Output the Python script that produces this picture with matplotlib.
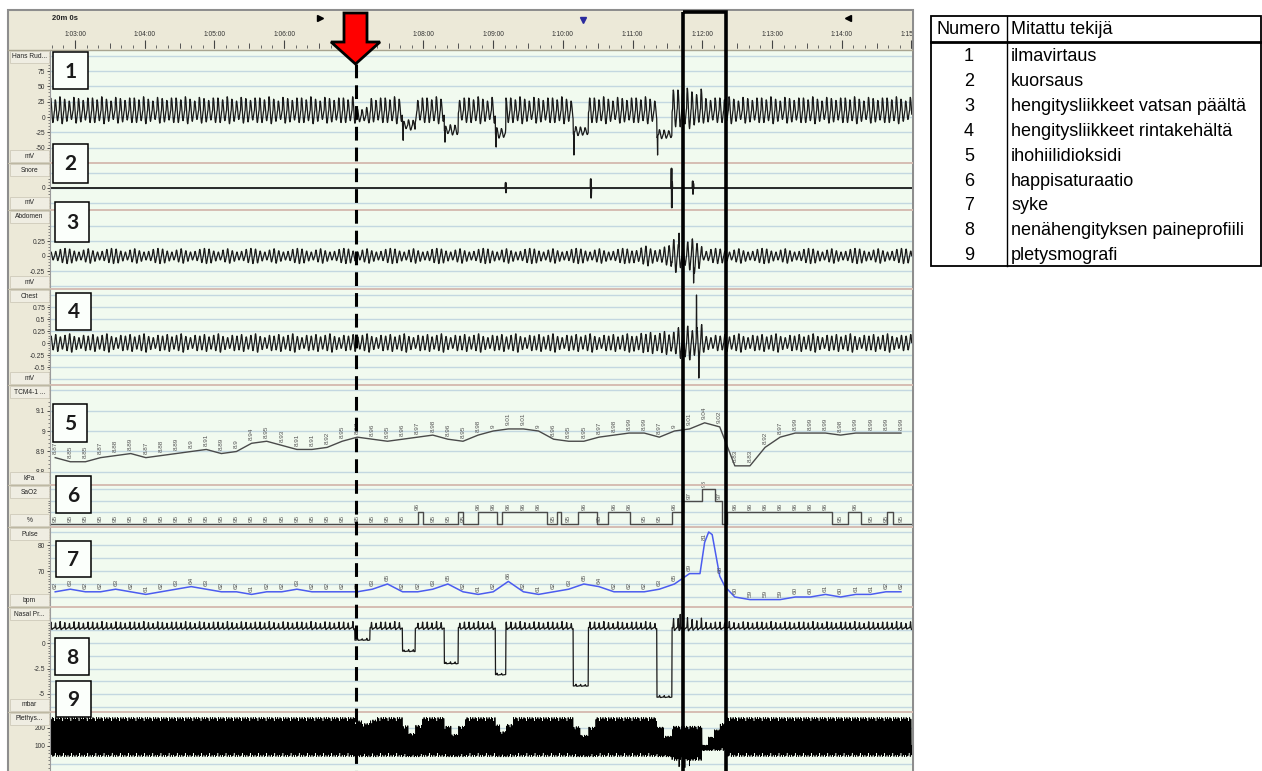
import numpy as np
import matplotlib
matplotlib.use("Agg")
import matplotlib.pyplot as plt
from matplotlib.patches import Rectangle, Polygon
from matplotlib.ticker import MultipleLocator

plt.rcParams['axes.unicode_minus'] = False
plt.rcParams['font.family'] = ['Liberation Sans', 'DejaVu Sans']

# ---------------- data ----------------
# time window (seconds from start of recording), 1:02:38 .. 1:15:00
t_start, t_end = 3758.5, 4500.5
minute_ticks = [3780, 3840, 3900, 3960, 4020, 4080, 4140, 4200, 4260, 4320, 4380, 4440, 4500]

# hypopnea / apnea events and the arousal after the last one (s)
event_start = [4021, 4062, 4098, 4142, 4209, 4281]
event_end = [4034, 4073, 4110, 4151, 4222, 4294]
arousal_start, arousal_end = 4294, 4320

# one breath = 16 samples of 0.25 s, one heart beat = 4 samples
flow_shape = [0.0, 0.7, 1.0, 0.95, 0.75, 0.45, 0.1, -0.3, -0.65, -0.9, -1.0, -0.9, -0.7, -0.45, -0.25, -0.1]
effort_shape = [0.0, 0.35, 0.7, 0.95, 1.0, 0.8, 0.45, 0.05, -0.35, -0.7, -0.95, -1.0, -0.85, -0.6, -0.35, -0.1]
pressure_shape = [0.0, 0.1, 0.6, 1.0, 0.4, -0.1, -0.3, -0.3, -0.25, -0.2, -0.15, -0.1, -0.1, -0.05, 0.0, 0.0]
pleth_shape = [1.0, -0.1, -1.0, -0.5]
breath_amps = [1.0, 0.85, 1.1, 0.9, 0.75, 1.05, 0.95, 0.8, 1.0]
abd_amps = [0.6, 0.7, 1.0, 1.15, 1.05, 0.75, 0.6, 0.9, 1.1, 0.8]
chest_amps = [0.9, 1.1, 0.8, 1.0, 1.2, 0.85, 0.7, 1.0]
pleth_amps = [1.0, 0.9, 1.0, 0.95, 0.8, 1.0, 0.92]

# 1 airflow (mV)
flow_center, flow_amp = 11, 20
flow_event_center = [3, -13, -21, -26, -23, -28]
flow_event_amp = [12, 8, 8, 9, 7, 7]
flow_spike_t = [4062.5, 4098.5, 4142.5, 4209.5, 4281.5]
flow_spike_v = [-38, -41, -49, -62, -62]

# 2 snore (mV)
snore_spike_t = [4150.75, 4151.0, 4224.0, 4224.25, 4293.5, 4293.75, 4294.0, 4311.75, 4312.0, 4312.25]
snore_spike_v = [0.35, -0.3, 0.6, -0.65, 1.3, -1.3, 0.4, 0.45, -0.4, 0.3]

# 3 abdomen, 4 chest (mV)
abd_spike_t = [4300, 4312.5]
abd_spike_v = [0.38, -0.45]
chest_spike_t = [4315, 4317]
chest_spike_v = [1.0, -0.73]

# 5 transcutaneous CO2 (kPa), 6 SaO2 (%), 7 pulse (bpm) -- one label every 13 s
label_times = np.arange(3763, 4492, 13)
co2_vals = [8.87, 8.85, 8.85, 8.87, 8.88, 8.89, 8.87, 8.88, 8.89, 8.90,
            8.91, 8.89, 8.90, 8.94, 8.95, 8.93, 8.91, 8.91, 8.92, 8.95,
            8.97, 8.96, 8.95, 8.96, 8.97, 8.98, 8.96, 8.95, 8.98, 9.00,
            9.01, 9.01, 9.00, 8.96, 8.95, 8.95, 8.97, 8.98, 8.99, 8.99,
            8.97, 9.00, 9.01, 9.04, 9.02, 8.83, 8.83, 8.92, 8.97, 8.99,
            8.99, 8.99, 8.98, 8.99, 8.99, 8.99, 8.99]
sao2_t = [3758, 4075, 4080, 4110, 4114, 4127, 4143, 4148, 4186, 4195, 4198, 4213, 4229,
          4239, 4258, 4294, 4303, 4320, 4331, 4337, 4341, 4432, 4445, 4457, 4479, 4484, 4501]
sao2_v = [95, 96, 95, 96, 95, 96, 95, 96, 95, 96, 95, 96, 95,
          96, 95, 96, 97, 98, 97, 95, 96, 95, 96, 95, 96, 95, 95]
pulse_vals = [62, 63, 62, 62, 63, 62, 61, 62, 63, 64,
              63, 62, 62, 61, 62, 62, 63, 62, 62, 62,
              62, 63, 65, 62, 62, 63, 65, 62, 61, 62,
              66, 62, 61, 62, 63, 65, 64, 62, 62, 62,
              63, 65, 69, 81, 68, 60, 59, 59, 59, 60,
              60, 61, 60, 61, 61, 62, 62]
pulse_peak_t = [4318, 4325.5, 4328.5, 4339.5]
pulse_peak_v = [69, 85, 84, 64]

# 8 nasal pressure (mbar)
nasal_center, nasal_amp = 1.5, 0.55
nasal_event_level = [0.3, -0.8, -2.0, -3.1, -4.2, -5.3]
nasal_spike_t = [4301, 4303]
nasal_spike_v = [2.8, 0.7]

# 9 plethysmograph: band top during each event and just after it
pleth_center, pleth_amp = 150, 108
pleth_event_top = [225, 170, 165, 180, 160, 155]
pleth_recover_top = [245, 215, 210, 220, 205, 200]
pleth_bottom = 40
pleth_ramp_t = [4320, 4325, 4330, 4335]
pleth_ramp_top = [105, 150, 190, 225]
pleth_ramp_bottom = 75
pleth_spike_t = [4300, 4305, 4309]
pleth_spike_v = [-15, -20, -10]

channel_names = ["Hans Rud...", "Snore", "Abdomen", "Chest", "TCM4-1 ...", "SaO2", "Pulse", "Nasal Pr...", "Plethys..."]
channel_units = ["mV", "mV", "mV", "mV", "kPa", "%", "bpm", "mbar", ""]
channel_ticks = [[75, 50, 25, 0, -25, -50], [0], [0.25, 0, -0.25], [0.75, 0.5, 0.25, 0, -0.25, -0.5],
                 [9.1, 9, 8.9, 8.8], [], [80, 70], [0, -2.5, -5], [200, 100]]

table_header = ["Numero", "Mitattu tekijä"]
table_numbers = ["1", "2", "3", "4", "5", "6", "7", "8", "9"]
table_labels = ["ilmavirtaus", "kuorsaus", "hengitysliikkeet vatsan päältä", "hengitysliikkeet rintakehältä",
                "ihohiilidioksidi", "happisaturaatio", "syke", "nenähengityksen paineprofiili", "pletysmografi"]

# ---------------- build the traces ----------------
t = np.arange(t_start, t_end, 0.25)
n = len(t)


def tiled(shape, amps):
    k = len(shape)
    reps = -(-n // k)
    a = np.resize(np.asarray(amps, float), reps)
    return (np.tile(shape, reps) * np.repeat(a, k))[:n]


def trace(base, center, amp, segments=(), spike_t=(), spike_v=()):
    y = center + amp * base
    for s, e, c, a in segments:
        m = (t >= s) & (t < e)
        y[m] = c + a * base[m]
    for st, sv in zip(spike_t, spike_v):
        y[np.searchsorted(t, st)] = sv
    return y


def band(top, bottom):
    return (top + bottom) / 2, (top - bottom) / 2


flow = trace(tiled(flow_shape, breath_amps), flow_center, flow_amp,
             list(zip(event_start, event_end, flow_event_center, flow_event_amp))
             + [(arousal_start, arousal_end, 14, 30)], flow_spike_t, flow_spike_v)
snore = trace(np.zeros(n), 0, 0, (), snore_spike_t, snore_spike_v)
abdomen = trace(tiled(effort_shape, abd_amps), 0, 0.11,
                [(4260, arousal_start, 0, 0.15), (arousal_start, arousal_end, 0, 0.26)],
                abd_spike_t, abd_spike_v)
chest = trace(tiled(effort_shape, chest_amps), 0, 0.16,
              [(4260, arousal_start, 0, 0.2), (arousal_start, arousal_end, 0, 0.32)],
              chest_spike_t, chest_spike_v)
nasal = trace(tiled(pressure_shape, breath_amps), nasal_center, nasal_amp,
              [(s, e, lv, 0.15) for s, e, lv in zip(event_start, event_end, nasal_event_level)]
              + [(arousal_start, arousal_end, 1.5, 0.9)], nasal_spike_t, nasal_spike_v)

pleth_segments = []
for s, e, top, rtop in zip(event_start, event_end, pleth_event_top, pleth_recover_top):
    pleth_segments.append((s, (s + e) / 2, *band((top + 255) / 2, pleth_bottom)))
    pleth_segments.append(((s + e) / 2, e, *band(top, pleth_bottom)))
    pleth_segments.append((e, e + 6, *band(rtop, pleth_bottom)))
pleth_segments.append((arousal_start, arousal_end, 115, 95))
for s, top in zip(pleth_ramp_t, pleth_ramp_top):
    pleth_segments.append((s, s + 5, *band(top, pleth_ramp_bottom)))
pleth = trace(tiled(pleth_shape, pleth_amps), pleth_center, pleth_amp,
              pleth_segments, pleth_spike_t, pleth_spike_v)

# ---------------- figure ----------------
W, H = 1262, 771
X0, X1 = 50, 912
fig = plt.figure(figsize=(W / 100, H / 100), dpi=100)


def frame(x0, y0, x1, y1):
    return [x0 / W, 1 - y1 / H, (x1 - x0) / W, (y1 - y0) / H]


bg = fig.add_axes([0, 0, 1, 1], zorder=-5)
bg.set_xlim(0, W)
bg.set_ylim(H, 0)
bg.axis('off')
bg.add_patch(Rectangle((8, 10), 905, 770, facecolor='#ECE9D8', edgecolor='#8E8E8E', lw=1.5))

# header with the time ruler
hd = fig.add_axes(frame(X0, 11, X1, 50), zorder=1)
hd.set_xlim(t_start, t_end)
hd.set_ylim(50, 11)
hd.set_facecolor('#ECE9D8')
hd.set_xticks([])
hd.set_yticks([])
for s in hd.spines.values():
    s.set_visible(False)
for m in minute_ticks:
    hd.text(m, 35, "%d:%02d:%02d" % (m // 3600, m % 3600 // 60, m % 60), ha='center', va='center',
            fontsize=4.8, color='#333333', clip_on=True)
ruler = np.arange(3760, 4501, 10)
hd.vlines(ruler, 45, 48, color='#555555', lw=0.6)
hd.vlines(ruler[ruler % 30 == 0], 43, 48, color='#555555', lw=0.7)
hd.vlines(minute_ticks, 40, 48, color='#444444', lw=0.8)
hd.plot([3991], [18], marker='>', ms=4, color='black')
hd.plot([4217], [20], marker='v', ms=4, color='#2B2B9E')
hd.plot([4445], [18], marker='<', ms=4, color='black')

# channel strips
bands = [(50, 163), (163, 210), (210, 289), (289, 385), (385, 485), (485, 527), (527, 607), (607, 712), (712, 771)]
scales = [(0, 117, 0.6133), (0, 188, 15), (0, 256, 60), (0, 343, 48), (9, 431, 205),
          (95, 524, 11.7), (70, 571, 2.6), (0, 643, 10.2), (200, 728, 0.18)]
grid_steps = [25, 1, 0.25, 0.25, 0.1, 1, 5, 1.25, 100]

axes = []
for (top, bot), (v0, p0, ppu), tk, gs in zip(bands, scales, channel_ticks, grid_steps):
    ax = fig.add_axes(frame(X0, top, X1, bot), zorder=1)
    ylo = v0 - (bot - p0) / ppu
    yhi = v0 + (p0 - top) / ppu
    ax.set_xlim(t_start, t_end)
    ax.set_ylim(ylo, yhi)
    ax.set_facecolor('#F1FAEF')
    for s in ['top', 'right', 'bottom']:
        ax.spines[s].set_visible(False)
    ax.spines['left'].set_color('#9A9A9A')
    ax.spines['left'].set_linewidth(0.8)
    ax.set_xticks([])
    ax.set_yticks(tk)
    ax.set_yticklabels([f"{v:g}" for v in tk])
    ax.yaxis.set_minor_locator(MultipleLocator(gs / 5))
    ax.tick_params(axis='y', which='major', length=2.5, width=0.6, labelsize=4.8, pad=1,
                   colors='#333333')
    ax.tick_params(axis='y', which='minor', length=1.2, width=0.5, color='#555555')
    for k in range(int(np.ceil(ylo / gs)), int(np.floor(yhi / gs)) + 1):
        v = k * gs
        if (v - ylo) * ppu > 3 and (yhi - v) * ppu > 3:
            ax.axhline(v, color='#C3D7E0', lw=1.0, zorder=0)
    axes.append(ax)

sig = dict(color='#1A1A1A', lw=0.9)
axes[0].plot(t, flow, **sig)
axes[1].plot(t, snore, color='#1A1A1A', lw=1.3)
axes[2].plot(t, abdomen, **sig)
axes[3].plot(t, chest, **sig)
axes[7].plot(t, nasal, **sig)
axes[8].plot(t, pleth, color='black', lw=0.6)

# CO2 trend with value labels
axes[4].plot(label_times, co2_vals, color='#4A4A4A', lw=1.0)
for lt, v in zip(label_times, co2_vals):
    axes[4].annotate(f"{v:g}", (lt, v), xytext=(0, 2.5), textcoords='offset points', rotation=90,
                     ha='center', va='bottom', fontsize=4.6, color='#555555')

# SaO2 steps with value labels
axes[5].plot(sao2_t, sao2_v, drawstyle='steps-post', color='#4A4A4A', lw=1.0)
for lt in label_times:
    v = sao2_v[np.searchsorted(sao2_t, lt, side='right') - 1]
    axes[5].annotate(f"{v:g}", (lt, v), xytext=(0, 1.5), textcoords='offset points', rotation=90,
                     ha='center', va='bottom', fontsize=4.6, color='#555555')

# pulse
order = np.argsort(np.concatenate([label_times, pulse_peak_t]))
pt = np.concatenate([label_times, pulse_peak_t])[order]
pv = np.concatenate([pulse_vals, pulse_peak_v])[order]
axes[6].plot(pt, pv, color='#4B5CF0', lw=1.1)
for lt, v in zip(label_times, pulse_vals):
    axes[6].annotate(f"{v:g}", (lt, v), xytext=(0, 2), textcoords='offset points', rotation=90,
                     ha='center', va='bottom', fontsize=4.6, color='#555555')

# ---------------- overlay in pixel coordinates ----------------
ov = fig.add_axes([0, 0, 1, 1], zorder=10)
ov.set_xlim(0, W)
ov.set_ylim(H, 0)
ov.axis('off')

ov.plot([8, X1], [50, 50], color='#A8A490', lw=1.0, zorder=1)
for i, ((top, bot), name, unit) in enumerate(zip(bands, channel_names, channel_units)):
    if i < len(bands) - 1:
        ov.plot([X0, X1], [bot, bot], color='#D6BDB3', lw=1.4, zorder=1)
        ov.plot([8, X0], [bot, bot], color='#BDB8A3', lw=0.8, zorder=1)
    ov.add_patch(Rectangle((10, top + 1), 39, 12, facecolor='#EFEDE2', edgecolor='#CFCABA', lw=0.6, zorder=2))
    ov.text(29.5, top + 7, name, ha='center', va='center', fontsize=4.8, color='#222222', zorder=3)
    if unit:
        ov.add_patch(Rectangle((10, bot - 13), 39, 12, facecolor='#EFEDE2', edgecolor='#CFCABA', lw=0.6, zorder=2))
        ov.text(29.5, bot - 7, unit, ha='center', va='center', fontsize=4.8, color='#222222', zorder=3)

ov.text(52, 19, "20m 0s", fontsize=5.5, fontweight='bold', ha='left', va='center', color='#222222')

# numbered boxes
box_rects = [(53, 52, 88, 89), (53, 144, 88, 183), (55, 202, 89, 242), (56, 293, 91, 330), (53, 404, 87, 442),
             (56, 476, 91, 513), (56, 541, 91, 577), (55, 638, 89, 675), (56, 681, 91, 717)]
for (x0, y0, x1, y1), num in zip(box_rects, table_numbers):
    ov.add_patch(Rectangle((x0, y0), x1 - x0, y1 - y0, facecolor='#FBFFFB', edgecolor='black', lw=1.1, zorder=5))
    ov.text((x0 + x1) / 2, (y0 + y1) / 2 + 1, num, fontsize=15, fontweight='bold', family='Lato',
            ha='center', va='center', color='#1A1A1A', zorder=6)

# arrow, dashed event line and arousal box
ov.add_patch(Polygon([(344, 13), (367, 13), (367, 42), (380, 42), (355.5, 64), (331, 42), (344, 42)],
                     closed=True, facecolor='#FF0000', edgecolor='black', lw=2, joinstyle='miter', zorder=8))
ov.plot([355.5, 355.5], [64, 771], color='black', lw=2.2, linestyle=(0, (4.5, 2.3)), zorder=7)
ov.add_patch(Rectangle((683, 12), 43, 770, fill=False, edgecolor='black', lw=2.6, zorder=7))

# legend table
tx0, tx1, ty0, ty1, tcol = 931, 1261, 16, 266, 1007
ov.add_patch(Rectangle((tx0, ty0), tx1 - tx0, ty1 - ty0, fill=False, edgecolor='black', lw=1.3))
ov.plot([tx0, tx1], [42, 42], color='black', lw=2.0)
ov.plot([tcol, tcol], [ty0, ty1], color='black', lw=1.0)
ov.text((tx0 + tcol) / 2, 30, table_header[0], ha='center', va='center', fontsize=13, color='black')
ov.text(tcol + 4, 30, table_header[1], ha='left', va='center', fontsize=13, color='black')
for i, (num, lab) in enumerate(zip(table_numbers, table_labels)):
    y = 56.5 + 24.9 * i
    ov.text((tx0 + tcol) / 2, y, num, ha='center', va='center', fontsize=13, color='black')
    ov.text(tcol + 4, y, lab, ha='left', va='center', fontsize=13, color='black')

fig.savefig('out.png', dpi=100)
